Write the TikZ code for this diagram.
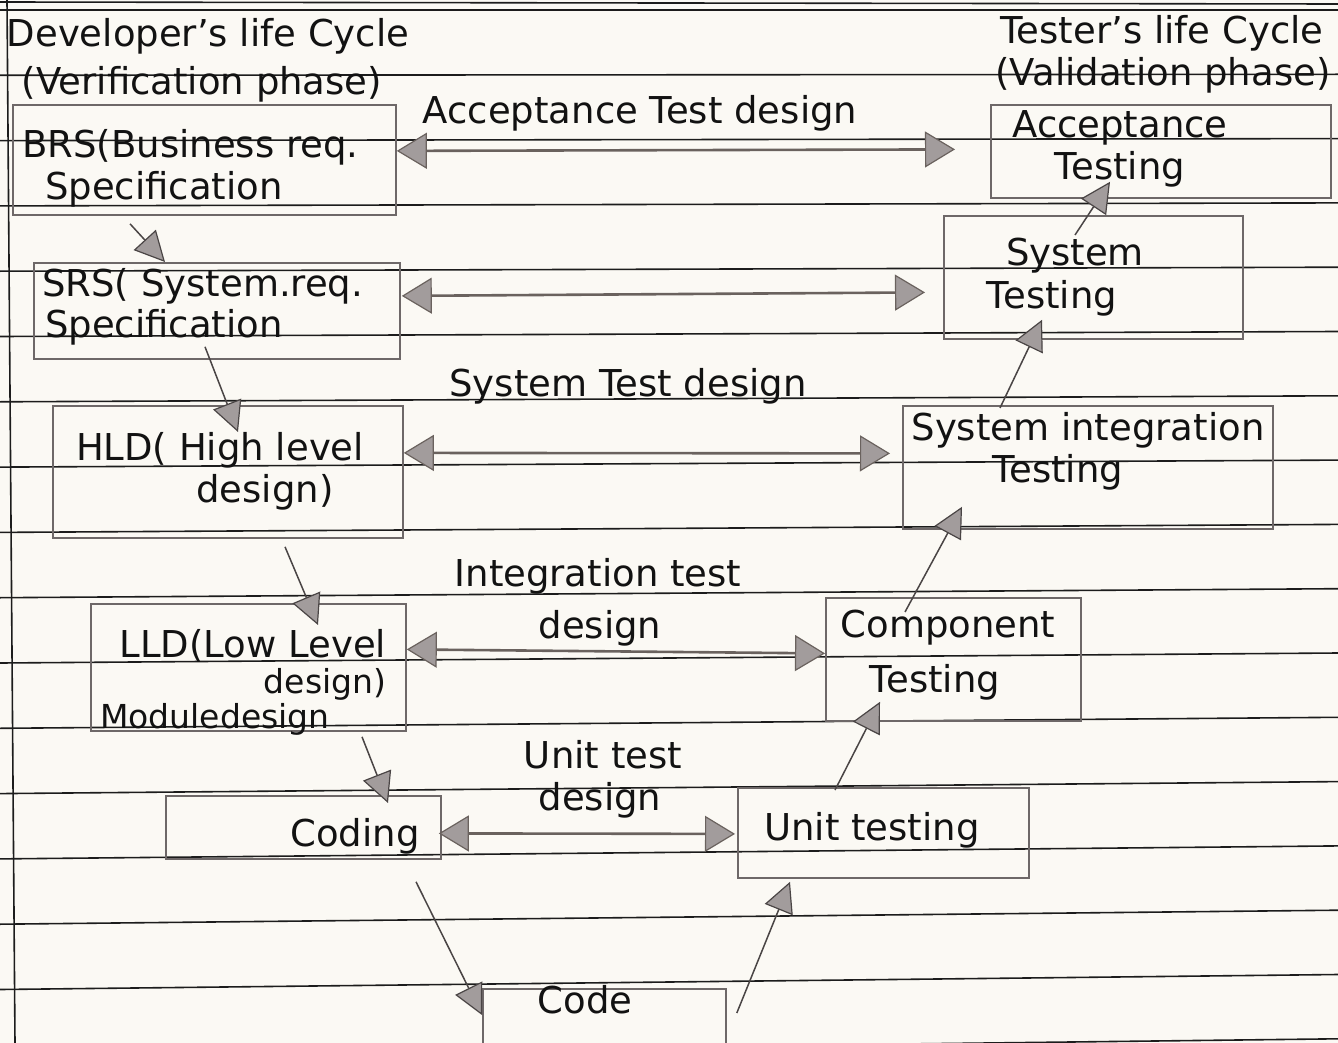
\documentclass[tikz,border=0pt]{standalone}
\usepackage{fontspec}
\setmainfont{DejaVu Sans}
\usetikzlibrary{arrows.meta,calc}
\definecolor{paper}{HTML}{FBF9F4}
\definecolor{ruleink}{HTML}{1C1C1C}
\definecolor{pencil}{HTML}{6E6868}
\definecolor{shaft}{HTML}{6A625E}
\definecolor{stroke}{HTML}{4A4545}
\definecolor{lead}{HTML}{A29C9C}
\definecolor{ink}{HTML}{121212}
\tikzset{
  ruleline/.style={draw=ruleink, line width=1.6pt},
  box/.style={draw=pencil, line width=1.8pt, inner sep=0pt, anchor=north west},
  hand/.style={text=ink, inner sep=0pt, font=\fontsize{37}{40}\selectfont},
  handsmall/.style={text=ink, inner sep=0pt, font=\fontsize{33}{36}\selectfont},
  hflow/.style={draw=shaft, line width=2.6pt,
    {Triangle[length=30pt,width=36pt,fill=lead,line width=1.2pt]}-{Triangle[length=30pt,width=36pt,fill=lead,line width=1.2pt]}},
  dflow/.style={draw=stroke, line width=1.5pt,
    -{Triangle[length=30pt,width=30pt,fill=lead,line width=1.2pt]}}
}
\begin{document}
\begin{tikzpicture}[x=1pt,y=-1pt]
% sheet of ruled paper
\fill[paper] (0,0) rectangle (1338,1043);
\useasboundingbox (0,0) rectangle (1338,1043);
\draw[ruleline] (0,2) -- (1338,4);
\foreach \k in {0,...,16} {
  \draw[ruleline] (0,{10+65.3*\k}) -- (1338,{10+64.3*\k});
}
\draw[ruleline] (7,0) -- (15,1043);

% verification side (left arm of the V)
\node[box, minimum width=383pt, minimum height=110pt] (brs) at (12,104) {};
\node[box, minimum width=366pt, minimum height=96pt]  (srs) at (33,262) {};
\node[box, minimum width=350pt, minimum height=132pt] (hld) at (52,405) {};
\node[box, minimum width=315pt, minimum height=127pt] (lld) at (90,603) {};
\node[box, minimum width=275pt, minimum height=63pt]  (coding) at (165,795) {};
\node[box, minimum width=243pt, minimum height=72pt]  (code) at (482,988) {};
% validation side (right arm of the V)
\node[box, minimum width=291pt, minimum height=90pt]  (unit) at (737,787) {};
\node[box, minimum width=255pt, minimum height=123pt] (comp) at (825,597) {};
\node[box, minimum width=370pt, minimum height=123pt] (sit) at (902,405) {};
\node[box, minimum width=299pt, minimum height=123pt] (syst) at (943,215) {};
\node[box, minimum width=340pt, minimum height=93pt]  (acct) at (990,104) {};

% headings
\node[hand] (devh1) at (208,36) {Developer's life Cycle};
\node[hand] (devh2) at (202,84) {(Verification phase)};
\node[hand] (tsth1) at (1162,33) {Tester's life Cycle};
\node[hand] (tsth2) at (1163,75) {(Validation phase)};

% box texts
\node[hand, anchor=west] (brst1) at (22,147) {BRS(Business req.};
\node[hand, anchor=west] (brst2) at (45,189) {Specification};
\node[hand, anchor=west] (srst1) at (42,286) {SRS( System.req.};
\node[hand, anchor=west] (srst2) at (45,327) {Specification};
\node[hand] (hldt1) at (220,450) {HLD( High level};
\node[hand] (hldt2) at (265,492) {design)};
\node[hand] (lldt1) at (253,646) {LLD(Low Level};
\node[handsmall] (lldt2) at (325,684) {design)};
\node[handsmall] (lldt3) at (215,719) {Moduledesign};
\node[hand] (codingt) at (355,836) {Coding};
\node[hand] (codet) at (585,1000) {Code};
\node[hand] (unitt) at (872,830) {Unit testing};
\node[hand] (compt1) at (948,628) {Component};
\node[hand] (compt2) at (935,682) {Testing};
\node[hand] (sitt1) at (1088,430) {System integration};
\node[hand] (sitt2) at (1058,472) {Testing};
\node[hand] (systt1) at (1075,256) {System};
\node[hand] (systt2) at (1052,298) {Testing};
\node[hand] (acctt1) at (1120,128) {Acceptance};
\node[hand] (acctt2) at (1120,169) {Testing};

% test-design labels
\node[hand] (ltad) at (640,113) {Acceptance Test design};
\node[hand] (ltsd) at (628,386) {System Test design};
\node[hand] (ltid1) at (598,576) {Integration test};
\node[hand] (ltid2) at (600,628) {design};
\node[hand] (ltud1) at (603,755) {Unit test};
\node[hand] (ltud2) at (600,800) {design};

% links between matching levels
\draw[hflow] ($(brs.east)+(0,-9)$) -- ($(acct.west)+(-35,-2)$);
\draw[hflow] ($(srs.east)+(1,-15)$) -- ($(syst.west)+(-18,15)$);
\draw[hflow] ($(hld.east)+(0,-19)$) -- ($(sit.west)+(-12,-14)$);
\draw[hflow] ($(lld.east)+(0,-18)$) -- ($(comp.west)+(0,-6)$);
\draw[hflow] ($(coding.east)+(-3,6)$) -- ($(unit.west)+(-2,1)$);

% down the left arm
\draw[dflow] ($(brs.south west)+(118,8)$) -- ($(srs.north west)+(132,0)$);
\draw[dflow] ($(srs.south west)+(172,-13)$) -- ($(hld.north west)+(186,27)$);
\draw[dflow] ($(hld.south west)+(233,8)$) -- ($(lld.north west)+(228,22)$);
\draw[dflow] ($(lld.south west)+(272,5)$) -- ($(coding.north west)+(223,8)$);
\draw[dflow] ($(coding.south west)+(251,22)$) -- ($(code.north west)+(0,27)$);
% up the right arm
\draw[dflow] ($(code.north east)+(10,25)$) -- ($(unit.south west)+(53,3)$);
\draw[dflow] ($(unit.north west)+(98,3)$) -- ($(comp.south west)+(55,-20)$);
\draw[dflow] ($(comp.north west)+(80,15)$) -- ($(sit.south west)+(60,-23)$);
\draw[dflow] ($(sit.north west)+(98,3)$) -- ($(syst.south west)+(99,-20)$);
\draw[dflow] ($(syst.north west)+(132,20)$) -- ($(acct.south west)+(120,-17)$);
\end{tikzpicture}
\end{document}
